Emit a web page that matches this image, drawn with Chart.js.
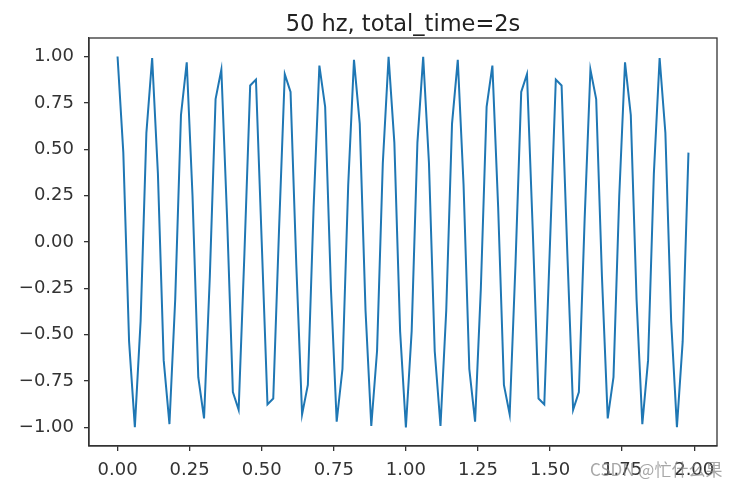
<!DOCTYPE html>
<html>
<head>
<meta charset="utf-8">
<script src="https://cdn.jsdelivr.net/npm/chart.js@4.4.1/dist/chart.umd.min.js"></script>
<style>
  html, body { margin: 0; padding: 0; background: #ffffff; }
  #wrap { width: 742px; height: 489px; }
</style>
</head>
<body>
<div id="wrap"><canvas id="c" width="742" height="489"></canvas></div>
<script>
// ---- data ----
const times = [0.00,0.02,0.04,0.06,0.08,0.10,0.12,0.14,0.16,0.18,
  0.20,0.22,0.24,0.26,0.28,0.30,0.32,0.34,0.36,0.38,
  0.40,0.42,0.44,0.46,0.48,0.50,0.52,0.54,0.56,0.58,
  0.60,0.62,0.64,0.66,0.68,0.70,0.72,0.74,0.76,0.78,
  0.80,0.82,0.84,0.86,0.88,0.90,0.92,0.94,0.96,0.98,
  1.00,1.02,1.04,1.06,1.08,1.10,1.12,1.14,1.16,1.18,
  1.20,1.22,1.24,1.26,1.28,1.30,1.32,1.34,1.36,1.38,
  1.40,1.42,1.44,1.46,1.48,1.50,1.52,1.54,1.56,1.58,
  1.60,1.62,1.64,1.66,1.68,1.70,1.72,1.74,1.76,1.78,
  1.80,1.82,1.84,1.86,1.88,1.90,1.92,1.94,1.96,1.98];
const signal = [1, 0.482, -0.536, -0.998, -0.426, 0.588, 0.992, 0.368, -0.637, -0.982,
  -0.309, 0.685, 0.969, 0.249, -0.729, -0.951, -0.187, 0.771, 0.930, 0.125,
  -0.809, -0.905, -0.063, 0.844, 0.876, 0, -0.876, -0.844, 0.063, 0.905,
  0.809, -0.125, -0.930, -0.771, 0.187, 0.951, 0.729, -0.249, -0.969, -0.685,
  0.309, 0.982, 0.637, -0.368, -0.992, -0.588, 0.426, 0.998, 0.536, -0.482,
  -1, -0.482, 0.536, 0.998, 0.426, -0.588, -0.992, -0.368, 0.637, 0.982,
  0.309, -0.685, -0.969, -0.249, 0.729, 0.951, 0.187, -0.771, -0.930, -0.125,
  0.809, 0.905, 0.063, -0.844, -0.876, 0, 0.876, 0.844, -0.063, -0.905,
  -0.809, 0.125, 0.930, 0.771, -0.187, -0.951, -0.729, 0.249, 0.969, 0.685,
  -0.309, -0.982, -0.637, 0.368, 0.992, 0.588, -0.426, -0.998, -0.536, 0.482];
const xTicks = [0, 0.25, 0.5, 0.75, 1.0, 1.25, 1.5, 1.75, 2.0];
const yTicks = [-1.0, -0.75, -0.5, -0.25, 0, 0.25, 0.5, 0.75, 1.0];
const titleText = '50 hz, total_time=2s';
const watermark = 'CSDN @忙什么果';

const points = times.map((t, i) => ({ x: t, y: signal[i] }));
const fmt = v => { const s = Math.abs(v).toFixed(2); return (v < -1e-9 ? '\u2212' : '') + s; };
const AX = '#333333';

const framePlugin = {
  id: 'frame',
  afterDraw(chart) {
    const { ctx, chartArea: a } = chart;
    ctx.save();
    ctx.strokeStyle = AX;
    ctx.lineWidth = 1.3;
    ctx.strokeRect(a.left, a.top, a.right - a.left, a.bottom - a.top);
    // axes title, centred over the plotting area
    ctx.font = '22.5px "DejaVu Sans"';
    ctx.fillStyle = '#222222';
    ctx.textAlign = 'center';
    ctx.textBaseline = 'alphabetic';
    ctx.fillText(titleText, (a.left + a.right) / 2, 31);
    // watermark
    ctx.font = '17px "Noto Sans CJK SC", "Noto Sans", sans-serif';
    ctx.fillStyle = 'rgba(130,130,130,0.7)';
    ctx.textBaseline = 'middle';
    ctx.textAlign = 'left';
    ctx.fillText(watermark, 590, 470);
    ctx.restore();
  }
};

new Chart(document.getElementById('c'), {
  type: 'line',
  data: {
    datasets: [{
      data: points,
      borderColor: '#1f77b4',
      borderWidth: 2,
      pointRadius: 0,
      tension: 0,
      fill: false
    }]
  },
  options: {
    responsive: false,
    animation: false,
    devicePixelRatio: 1,
    layout: { padding: { left: 0, right: 25, top: 38, bottom: 0 } },
    plugins: {
      legend: { display: false },
      tooltip: { enabled: false },
      title: { display: false }
    },
    scales: {
      x: {
        type: 'linear',
        min: -0.099,
        max: 2.079,
        afterBuildTicks: s => { s.ticks = xTicks.map(v => ({ value: v })); },
        afterFit: s => { s.height = 43; },
        grid: { display: true, drawOnChartArea: false, drawTicks: true, tickLength: 5, color: AX, lineWidth: 1.3 },
        border: { display: true, color: AX, width: 1.3 },
        ticks: {
          autoSkip: false, maxRotation: 0, padding: 9,
          color: '#333333',
          font: { family: 'DejaVu Sans', size: 18 },
          callback: v => fmt(v)
        }
      },
      y: {
        type: 'linear',
        min: -1.0999,
        max: 1.0999,
        afterBuildTicks: s => { s.ticks = yTicks.map(v => ({ value: v })); },
        afterFit: s => { s.width = 89; },
        grid: { display: true, drawOnChartArea: false, drawTicks: true, tickLength: 5, color: AX, lineWidth: 1.3 },
        border: { display: true, color: AX, width: 1.3 },
        ticks: {
          autoSkip: false, padding: 10,
          color: '#333333',
          font: { family: 'DejaVu Sans', size: 18 },
          callback: v => fmt(v)
        }
      }
    }
  },
  plugins: [framePlugin]
});
</script>
</body>
</html>
